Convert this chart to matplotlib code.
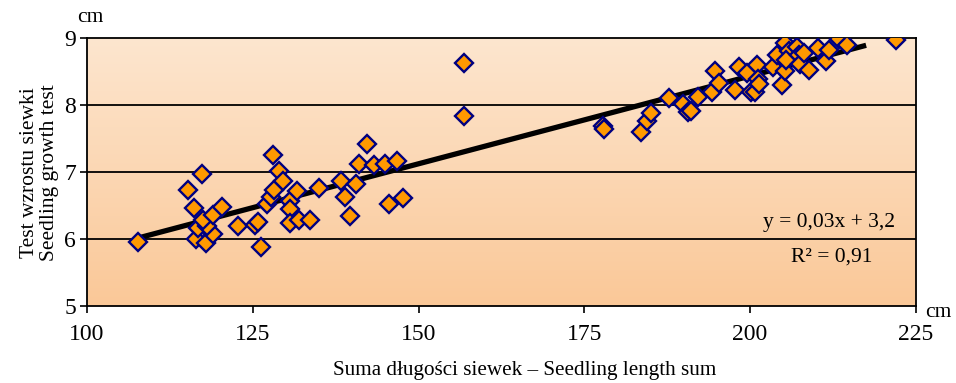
import numpy as np
import matplotlib
matplotlib.use("Agg")
import matplotlib.pyplot as plt
from matplotlib.colors import LinearSegmentedColormap

# Seedling length sum (cm) vs seedling growth test (cm)
length_sum = [
    107.7, 115.3, 116.2, 117.3, 116.4, 117.9, 119.0, 116.7, 118.1, 117.5,
    119.0, 120.4, 122.8, 125.4, 125.8, 126.2, 127.1, 127.8, 128.2, 128.1,
    128.9, 129.6, 130.6, 130.6, 130.6, 131.6, 132.0, 133.7, 135.0, 138.3,
    138.9, 139.6, 140.6, 141.0, 142.2, 143.3, 145.0, 146.8, 145.5, 147.7,
    156.9, 156.8,
    177.8, 177.9, 183.6, 184.5, 185.0, 187.7, 189.9, 190.6, 191.1, 192.1,
    194.3, 194.7, 195.3, 197.7, 198.3, 199.6, 200.2, 200.8, 201.0, 201.2,
    201.4, 203.5, 204.0, 204.8, 205.2, 205.2, 205.9, 205.4, 207.1, 207.4,
    207.6, 208.2, 208.9, 210.3, 211.4, 211.9, 213.4, 214.6, 222.0,
]
growth_test = [
    5.96, 6.73, 6.46, 6.97, 6.00, 5.94, 6.07, 6.17, 6.20, 6.28,
    6.36, 6.48, 6.19, 6.21, 6.25, 5.88, 6.52, 6.63, 6.73, 7.25,
    7.01, 6.87, 6.56, 6.45, 6.24, 6.72, 6.29, 6.29, 6.76, 6.87,
    6.63, 6.34, 6.82, 7.12, 7.42, 7.10, 7.12, 7.17, 6.52, 6.61,
    8.63, 7.84,
    7.69, 7.64, 7.59, 7.76, 7.88, 8.11, 8.02, 7.90, 7.91, 8.12,
    8.20, 8.51, 8.32, 8.23, 8.56, 8.47, 8.20, 8.20, 8.60, 8.38,
    8.31, 8.57, 8.74, 8.30, 8.92, 8.51, 8.80, 8.67, 8.87, 8.75,
    8.61, 8.77, 8.52, 8.85, 8.65, 8.82, 8.99, 8.90, 8.97,
]
x_ticks = [100, 125, 150, 175, 200, 225]
y_ticks = [5, 6, 7, 8, 9]
trend_end = 217.5

plt.rcParams["font.family"] = ["Liberation Serif", "DejaVu Serif"]

x = np.array(length_sum)
y = np.array(growth_test)
slope, intercept = np.polyfit(x, y, 1)

fig = plt.figure(figsize=(9.56, 3.83), dpi=100)
ax = fig.add_axes([0.091, 0.201, 0.867, 0.700])

# vertical peach gradient background
cmap = LinearSegmentedColormap.from_list(
    "peach", [(250 / 255, 200 / 255, 152 / 255), (253 / 255, 230 / 255, 207 / 255)]
)
grad = np.linspace(0, 1, 256).reshape(-1, 1)
ax.imshow(grad, aspect="auto", cmap=cmap, origin="lower",
          extent=[100, 225, 5, 9], zorder=0)

for yv in y_ticks[1:-1]:
    ax.axhline(yv, color="black", lw=1.3, zorder=1)

tx = np.array([x.min(), trend_end])
ax.plot(tx, slope * tx + intercept, color="black", lw=3.8,
        solid_capstyle="butt", zorder=2)
ax.plot(x, y, linestyle="none", marker="D", markersize=9.5,
        markerfacecolor="#FF9900", markeredgecolor="#000080",
        markeredgewidth=1.7, zorder=3)

ax.set_xlim(100, 225)
ax.set_ylim(5, 9)
ax.set_xticks(x_ticks)
ax.set_yticks(y_ticks)
ax.tick_params(direction="out", length=5, width=1.2, labelsize=17,
               colors="black", pad=3)
ax.tick_params(axis="x", pad=8)
for s in ax.spines.values():
    s.set_linewidth(1.3)
    s.set_color("black")

ax.text(0.975, 0.313, "y = 0,03x + 3,2", transform=ax.transAxes,
        ha="right", va="center", fontsize=15.5)
ax.text(0.948, 0.183, "R\u00b2 = 0,91",
        transform=ax.transAxes, ha="right", va="center", fontsize=15.5)

fig.text(0.094, 0.955, "cm", ha="center", va="center", fontsize=15.5)
fig.text(0.981, 0.183, "cm", ha="center", va="center", fontsize=15.5)
fig.text(0.549, 0.032, "Suma długości siewek – Seedling length sum",
         ha="center", va="center", fontsize=15.2)
fig.text(0.041, 0.55, "Test wzrostu siewki\nSeedling growth test",
         ha="center", va="center", rotation=90, fontsize=15.5,
         linespacing=1.05)

fig.savefig("out.png", dpi=100)
